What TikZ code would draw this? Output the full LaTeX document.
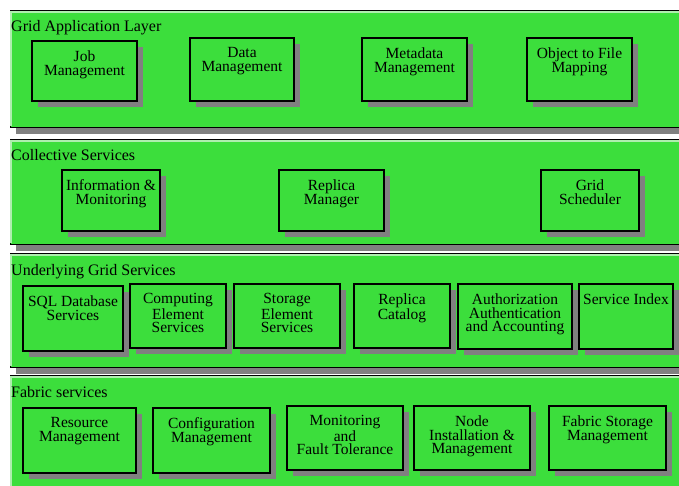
\documentclass[tikz,border=0pt]{standalone}
\usepackage{fontspec}
\setmainfont{Liberation Serif}
\usetikzlibrary{shadows}
\definecolor{layergreen}{RGB}{60,222,60}
\definecolor{shadowgray}{RGB}{128,128,128}
\definecolor{rimlight}{RGB}{175,238,175}
\tikzset{
  gshadow/.style={drop shadow={shadow xshift=6pt, shadow yshift=-6pt, fill=shadowgray, opacity=1}},
  layerbox/.style={draw=black, line width=1.2pt, fill=layergreen, gshadow, inner sep=0pt, anchor=north west},
  blockbox/.style={draw=black, line width=2pt, fill=layergreen, gshadow, inner sep=0pt},
  blocktext/.style={anchor=north, inner sep=0pt, align=center,
    font=\fontsize{15.5pt}{13.6pt}\selectfont},
  layertitle/.style={anchor=base west, inner sep=0pt, font=\fontsize{16pt}{16pt}\selectfont}
}
% \layer{name}{top}{bottom}{title}
\newcommand{\layer}[4]{%
  \node[layerbox, minimum width=690pt, minimum height={#3-#2}] (#1) at (9.5,#2) {};
  \draw[rimlight, line width=2.4pt] (11.2,#3-1) -- (11.2,#2+1.8) -- (690,#2+1.8);
  \node[layertitle] (#1-title) at (11,#2+22) {#4};
}
% \block{name}{x1}{y1}{x2}{y2}{text}
\newcommand{\block}[6]{%
  \node[blockbox, minimum width={#4-#2}, minimum height={#5-#3}] (#1) at ({(#2+#4)/2},{(#3+#5)/2}) {};
  \node[blocktext] (#1-text) at ([yshift=-10.5pt]#1.north) {#6};
}
\begin{document}
\begin{tikzpicture}[x=1pt,y=-1pt]
\useasboundingbox (0,0) rectangle (679,486);
\clip (0,0) rectangle (679,486);
\fill[white] (0,0) rectangle (679,486);

% Grid application layer
\layer{app}{10}{127}{Grid Application Layer}
\block{job}{32}{41}{137}{101}{Job\\Management}
\block{data}{190}{38}{294}{101}{Data\\Management}
\block{meta}{362}{38}{467}{101}{Metadata\\Management}
\block{obj}{527}{38}{632}{101}{Object to File\\Mapping}

% Collective services
\layer{coll}{139}{244}{Collective Services}
\block{info}{62}{170}{160}{231}{Information \&\\Monitoring}
\block{repman}{279}{170}{384}{231}{Replica\\Manager}
\block{sched}{541}{170}{639}{231}{Grid\\Scheduler}

% Underlying grid services
\layer{under}{253}{367}{Underlying Grid Services}
\block{sql}{23}{286}{123}{351}{SQL Database\\Services}
\block{comp}{130}{284}{226}{348}{Computing\\Element\\Services}
\block{stor}{234}{284}{340}{348}{Storage\\Element\\Services}
\block{repcat}{354}{284}{450}{348}{Replica\\Catalog}
\block{auth}{458}{284}{572}{349}{Authorization\\Authentication\\and Accounting}
\block{sindex}{579}{284}{673}{349}{Service Index}

% Fabric services
\layer{fab}{375}{500}{Fabric services}
\block{res}{23}{408}{136}{473}{Resource\\Management}
\block{conf}{153}{408}{270}{473}{Configuration\\Management}
\block{mon}{287}{406}{403}{470}{Monitoring\\and\\Fault Tolerance}
\block{node}{414}{406}{530}{470}{Node\\Installation \&\\Management}
\block{fstor}{549}{406}{666}{470}{Fabric Storage\\Management}
\end{tikzpicture}
\end{document}
